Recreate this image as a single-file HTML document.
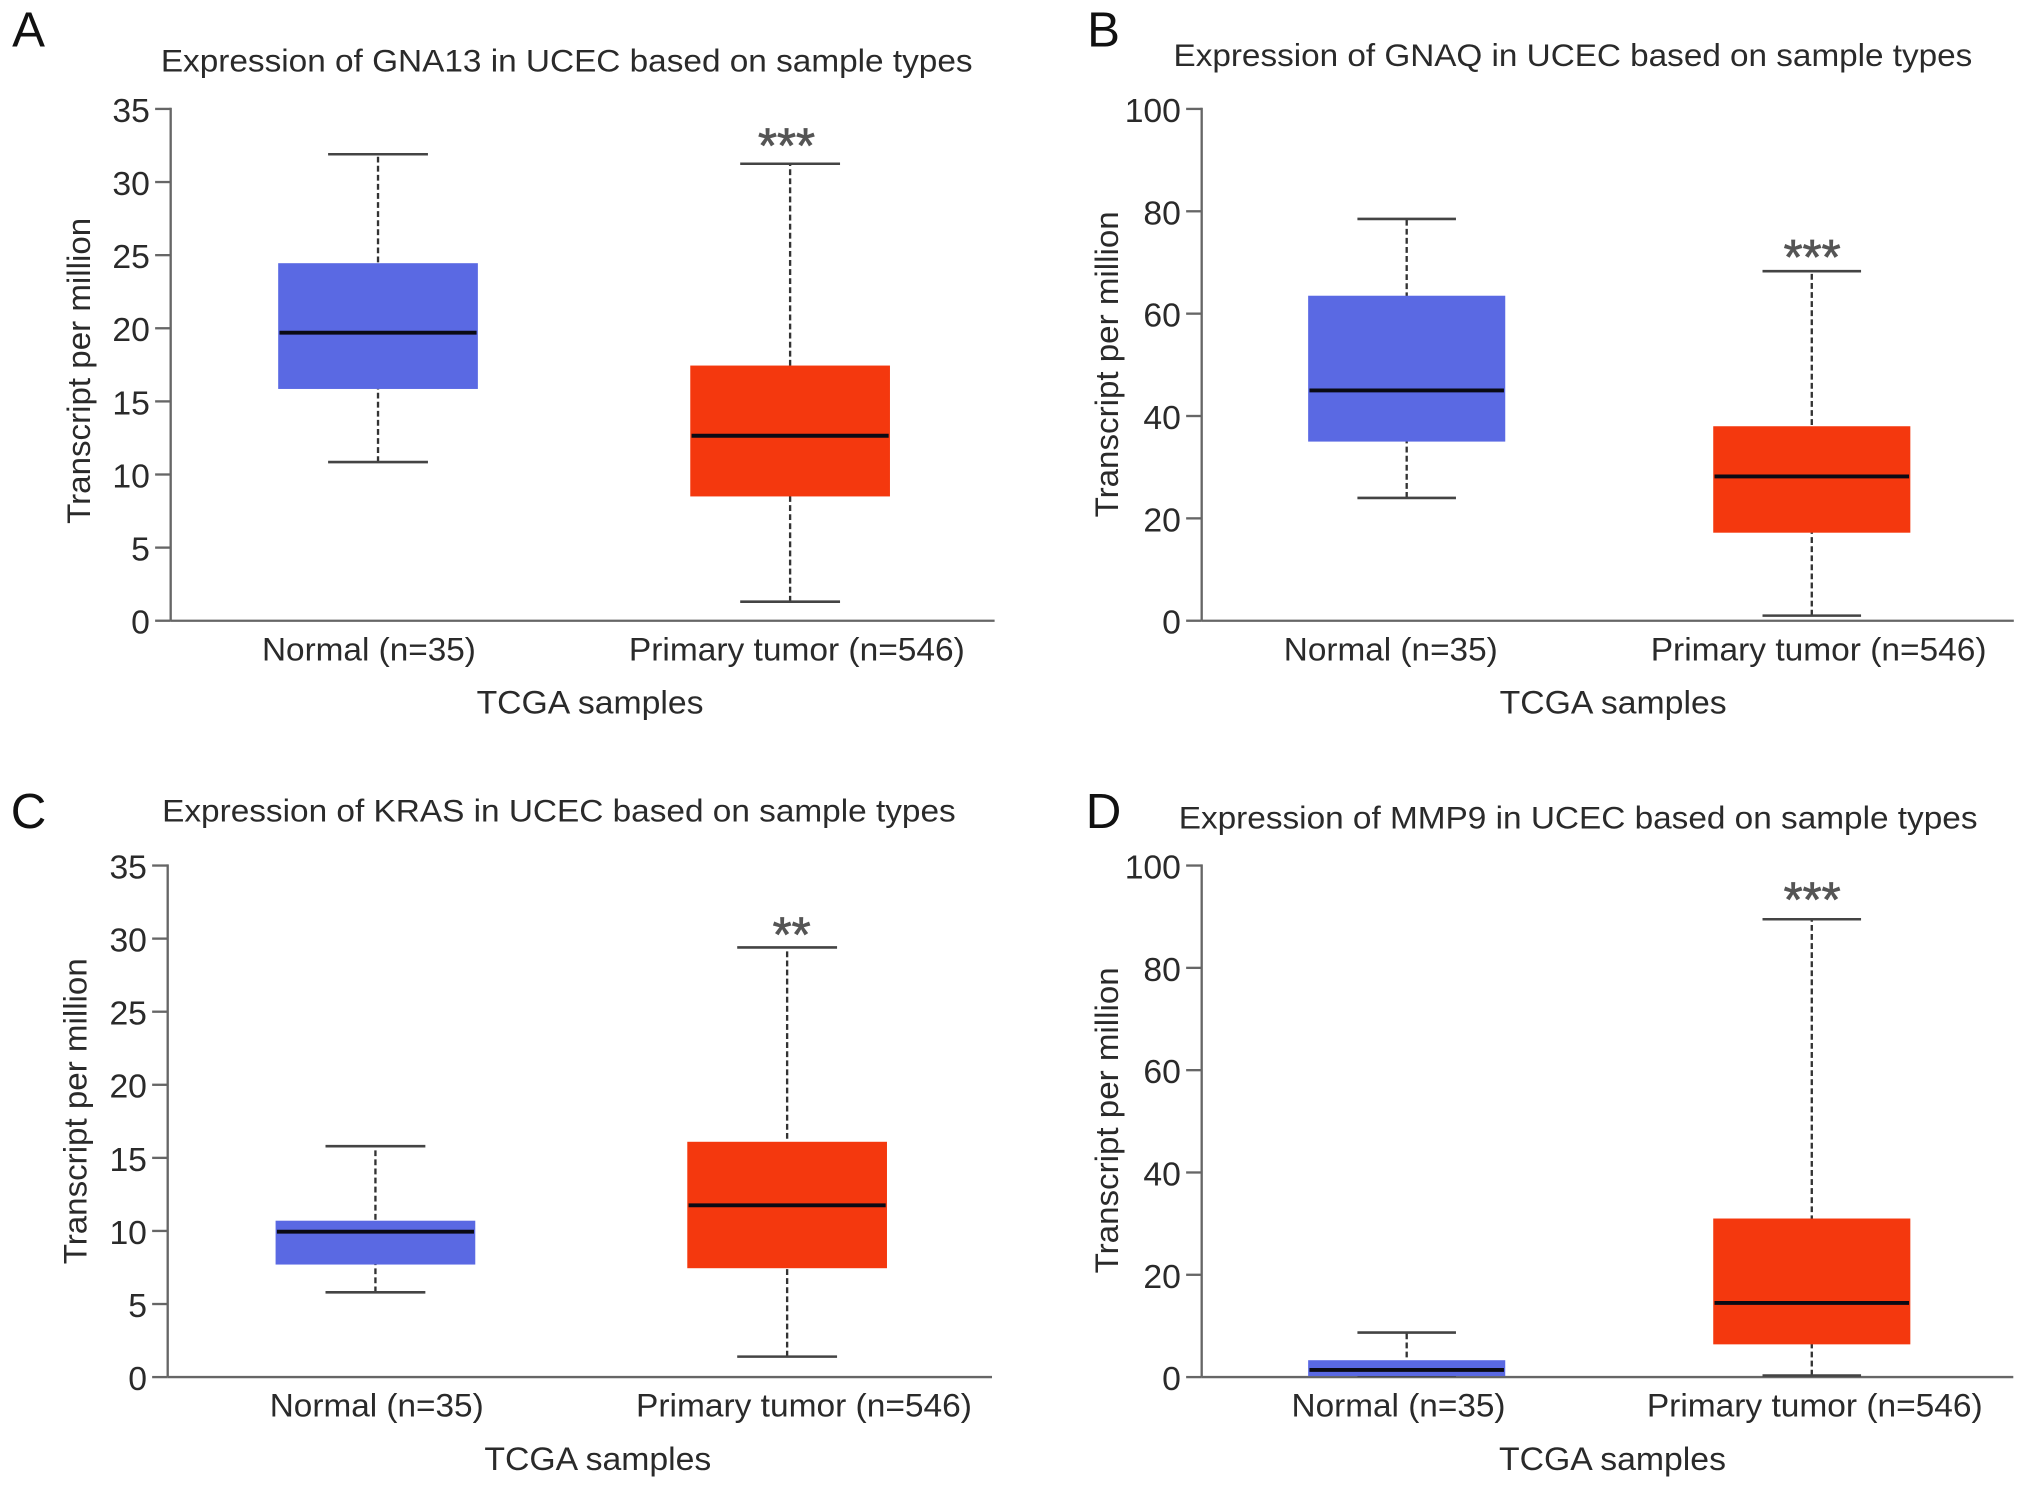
<!DOCTYPE html>
<html lang="en">
<head>
<meta charset="utf-8">
<title>Expression box plots in UCEC</title>
<style>
html,body{margin:0;padding:0;background:#fff;width:2032px;height:1489px;overflow:hidden}
svg{display:block}
text{font-family:"Liberation Sans",Arial,sans-serif;fill:#2a2a2a}
</style>
</head>
<body>
<svg id="figure" xmlns="http://www.w3.org/2000/svg" width="2032" height="1489" viewBox="0 0 1567 1148.3"></svg>
<script>
const categories = ['Normal (n=35)', 'Primary tumor (n=546)'];
const xAxisTitle = 'TCGA samples';
const yAxisTitle = 'Transcript per million';
const ticksTo35 = [0, 5, 10, 15, 20, 25, 30, 35];
const ticksTo100 = [0, 20, 40, 60, 80, 100];
// values: [lower whisker, Q1, median, Q3, upper whisker]
const gna13Normal = [10.85, 15.85, 19.7, 24.45, 31.9];
const gna13Tumor = [1.3, 8.5, 12.65, 17.45, 31.25];
const gnaqNormal = [24, 35, 45, 63.5, 78.5];
const gnaqTumor = [1, 17.2, 28.2, 38, 68.3];
const krasNormal = [5.8, 7.7, 9.95, 10.7, 15.8];
const krasTumor = [1.4, 7.45, 11.75, 16.1, 29.4];
const mmp9Normal = [0.3, 0.2, 1.4, 3.3, 8.7];
const mmp9Tumor = [0.3, 6.4, 14.5, 31, 89.5];

const panels = [
  {letter:'A', lx:22, ly:36, gene:'GNA13', titleX:124, titleW:626, titleY:55, left:131.6, right:767, top:84, bottom:478.7, ticks:ticksTo35, max:35, boxHalf:77, capHalf:38.5,
   normal:gna13Normal, tumor:gna13Tumor, cx:[291.5,609.3], labelX:[284.5,614.5], xTitleX:455, yTitleX:69.5, yTitleY:286, stars:'***', starX:606.5, starGap:18},
  {letter:'B', lx:851, ly:36, gene:'GNAQ', titleX:905, titleW:616, titleY:51, left:926.7, right:1553, top:84, bottom:478.7, ticks:ticksTo100, max:100, boxHalf:76, capHalf:38,
   normal:gnaqNormal, tumor:gnaqTumor, cx:[1084.8,1397.2], labelX:[1072.5,1402.5], xTitleX:1244, yTitleX:862, yTitleY:281, stars:'***', starX:1397.5, starGap:15},
  {letter:'C', lx:22, ly:638.5, gene:'KRAS', titleX:125, titleW:612, titleY:633.5, left:129.3, right:765, top:667.5, bottom:1062, ticks:ticksTo35, max:35, boxHalf:77, capHalf:38.5,
   normal:krasNormal, tumor:krasTumor, cx:[289.5,607], labelX:[290.5,620], xTitleX:461, yTitleX:66.5, yTitleY:857, stars:'**', starX:610.5, starGap:14},
  {letter:'D', lx:851, ly:638.5, gene:'MMP9', titleX:909, titleW:616, titleY:639, left:926.7, right:1552.6, top:667.5, bottom:1062, ticks:ticksTo100, max:100, boxHalf:76, capHalf:38,
   normal:mmp9Normal, tumor:mmp9Tumor, cx:[1084.8,1397.2], labelX:[1078.5,1399.5], xTitleX:1243.5, yTitleX:862, yTitleY:864, stars:'***', starX:1397.5, starGap:19}
];

const svg = document.getElementById('figure');
const NS = 'http://www.w3.org/2000/svg';

function mk(tag, attrs, parent, content) {
  const el = document.createElementNS(NS, tag);
  for (const k in attrs) el.setAttribute(k, attrs[k]);
  if (content !== undefined) el.textContent = content;
  parent.appendChild(el);
  return el;
}

panels.forEach(function (p) {
  const yScale = function (v) { return p.bottom - (v / p.max) * (p.bottom - p.top); };
  const axisColor = '#666';

  const g = mk('g', {}, svg);
  
  

  const letter = mk('text', {x:p.lx, y:p.ly, 'text-anchor':'middle', 'font-size':38, style:'fill:#111'}, g, p.letter);
  
  

  const title = mk('text', {x:p.titleX, y:p.titleY, 'font-size':24.5, textLength:p.titleW, lengthAdjust:'spacingAndGlyphs'}, g,
    'Expression of ' + p.gene + ' in UCEC based on sample types');
  
  

  const yAxis = mk('line', {x1:p.left, x2:p.left, y1:p.top - 0.9, y2:p.bottom, stroke:axisColor, 'stroke-width':1.8}, g);
  
  

  const xAxis = mk('line', {x1:p.left, x2:p.right, y1:p.bottom, y2:p.bottom, stroke:axisColor, 'stroke-width':1.8}, g);
  
  

  [[p.normal, '#5a69e3', 0], [p.tumor, '#f4380e', 1]].forEach(function (s) {
    const vals = s[0], cx = p.cx[s[2]];
    const seriesG = mk('g', {}, g);
    
    

    const whisker = mk('line', {x1:cx, x2:cx, y1:yScale(vals[0]), y2:yScale(vals[4]), stroke:'#333', 'stroke-width':1.8, 'stroke-dasharray':'4.5 2.5'}, seriesG);
    
    

    const capLow = mk('line', {x1:cx - p.capHalf, x2:cx + p.capHalf, y1:yScale(vals[0]), y2:yScale(vals[0]), stroke:'#444', 'stroke-width':2}, seriesG);
    
    

    const capHigh = mk('line', {x1:cx - p.capHalf, x2:cx + p.capHalf, y1:yScale(vals[4]), y2:yScale(vals[4]), stroke:'#444', 'stroke-width':2}, seriesG);
    
    

    const box = mk('rect', {x:cx - p.boxHalf, width:p.boxHalf * 2, y:yScale(vals[3]), height:yScale(vals[1]) - yScale(vals[3]), fill:s[1]}, seriesG);
    
    

    const median = mk('line', {x1:cx - p.boxHalf + 1, x2:cx + p.boxHalf - 1, y1:yScale(vals[2]), y2:yScale(vals[2]), stroke:'#0a0a14', 'stroke-width':3}, seriesG);
    
    
  });

  p.ticks.forEach(function (t) {
    const tick = mk('line', {x1:p.left - 12, x2:p.left, y1:yScale(t), y2:yScale(t), stroke:axisColor, 'stroke-width':1.8}, g);
    
    

    const label = mk('text', {x:p.left - 16, y:yScale(t) + 10, 'text-anchor':'end', 'font-size':26}, g, String(t));
    
    
  });

  categories.forEach(function (c, i) {
    const label = mk('text', {x:p.labelX[i], y:p.bottom + 30.5, 'text-anchor':'middle', 'font-size':25, textLength:i === 0 ? 165 : 259, lengthAdjust:'spacingAndGlyphs'}, g, c);
    
    
  });

  const xTitle = mk('text', {x:p.xTitleX, y:p.bottom + 71.5, 'text-anchor':'middle', 'font-size':25, textLength:175, lengthAdjust:'spacingAndGlyphs'}, g, xAxisTitle);
  
  

  const yTitle = mk('text', {x:0, y:0, 'text-anchor':'middle', 'font-size':25, textLength:236, lengthAdjust:'spacingAndGlyphs', transform:'translate(' + p.yTitleX + ' ' + p.yTitleY + ') rotate(-90)'}, g, yAxisTitle);
  
  

  const stars = mk('text', {x:p.starX, y:yScale(p.tumor[4]) - p.starGap + 17, 'text-anchor':'middle', 'font-size':37.7, style:'fill:#555;stroke:#555;stroke-width:0.6'}, g, p.stars);
  
  
});
</script>
</body>
</html>
